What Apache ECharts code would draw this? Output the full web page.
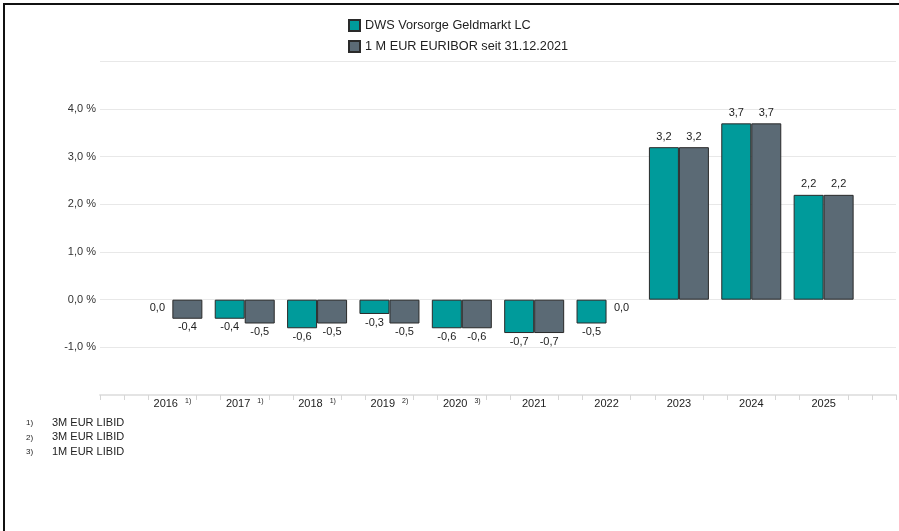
<!DOCTYPE html>
<html>
<head>
<meta charset="utf-8">
<script src="https://cdn.jsdelivr.net/npm/echarts@6/dist/echarts.min.js"></script>
<style>
html,body{margin:0;padding:0;background:#fff;}
#frame{position:absolute;left:3px;top:3px;width:896px;height:528px;border-top:2px solid #111;border-left:2px solid #111;box-sizing:border-box;}
#chart{position:absolute;left:0;top:0;width:899px;height:531px;}
</style>
</head>
<body>
<div id="frame"></div>
<div id="chart"></div>
<script>
const years = [2016, 2017, 2018, 2019, 2020, 2021, 2022, 2023, 2024, 2025];
const yearNotes = ['1)', '1)', '1)', '2)', '3)', '', '', '', '', ''];
const fundName = 'DWS Vorsorge Geldmarkt LC';
const benchName = '1 M EUR EURIBOR seit 31.12.2021';
const fundValues = [0.0, -0.4, -0.6, -0.3, -0.6, -0.7, -0.5, 3.2, 3.7, 2.2];
const benchValues = [-0.4, -0.5, -0.5, -0.5, -0.6, -0.7, 0.0, 3.2, 3.7, 2.2];
const yTicks = [-1, 0, 1, 2, 3, 4];
const footnoteMarks = ['1)', '2)', '3)'];
const footnoteTexts = ['3M EUR LIBID', '3M EUR LIBID', '1M EUR LIBID'];

const fmt = v => v.toFixed(1).replace('.', ',');

function buildData(vals) {
  return vals.map((v, i) => ({
    value: [years[i], v],
    itemStyle: v === 0 ? { borderWidth: 0, opacity: 0 } : undefined,
    label: { position: v > 0 ? 'top' : 'bottom', distance: v > 0 ? 5 : 3, opacity: 1 }
  }));
}

const tickVals = [2015];
years.concat([2015, 2026]).sort((a,b)=>a-b).filter((v,i,a)=>a.indexOf(v)===i).forEach(y => {
  if (y > 2015) tickVals.push(y - 1/3);
  if (y < 2026) tickVals.push(y + 1/3);
});
tickVals.push(2026);

const chart = echarts.init(document.getElementById('chart'), null, { renderer: 'canvas' });
const fontFamily = '"Liberation Sans", Arial, sans-serif';

const graphics = [];
footnoteMarks.forEach((m, i) => {
  graphics.push({ type: 'text', left: 26, top: 419 + i * 14.5,
    style: { text: m, font: '8px ' + fontFamily, fill: '#222' } });
  graphics.push({ type: 'text', left: 52, top: 417 + i * 14.5,
    style: { text: footnoteTexts[i], font: '11px ' + fontFamily, fill: '#222' } });
});

const labelStyle = { show: true, color: '#222', fontSize: 11, fontFamily: fontFamily, formatter: p => fmt(p.value[1]) };

chart.setOption({
  animation: false,
  textStyle: { fontFamily: fontFamily },
  legend: {
    orient: 'vertical', left: 343, top: 14,
    icon: 'rect',
    itemWidth: 11, itemHeight: 11, itemGap: 8,
    textStyle: { fontSize: 12.7, color: '#222', fontFamily: fontFamily },
    data: [fundName, benchName]
  },
  grid: { left: 100, right: 2, top: 61.4, bottom: 136, containLabel: false },
  xAxis: {
    type: 'value', min: 2015, max: 2026, interval: 1,
    splitLine: { show: false },
    axisLine: { show: true, onZero: false, lineStyle: { color: '#e4e4e4', width: 2 } },
    axisTick: { show: true, customValues: tickVals, length: 5, lineStyle: { color: '#d6d6d6' } },
    axisLabel: {
      margin: 3, color: '#222', fontSize: 11,
      formatter: v => {
        const i = years.indexOf(Math.round(v));
        if (i < 0) return '';
        return '{y|' + years[i] + '}' + (yearNotes[i] ? '{n|' + yearNotes[i] + '}' : '');
      },
      rich: {
        y: { fontSize: 11, color: '#222', fontFamily: fontFamily },
        n: { fontSize: 7, color: '#222', fontFamily: fontFamily, padding: [0, 0, 5, 7] }
      }
    }
  },
  yAxis: {
    type: 'value', min: -2, max: 5, interval: 1,
    axisLine: { show: false }, axisTick: { show: false },
    splitLine: { lineStyle: { color: '#e8e8e8', width: 1 } },
    axisLabel: {
      margin: 4, color: '#333', fontSize: 11,
      formatter: v => yTicks.indexOf(v) >= 0 ? fmt(v) + ' %' : ''
    }
  },
  series: [
    { name: fundName, type: 'bar', barWidth: 30, barGap: 0,
      itemStyle: { color: '#009b9b', borderColor: '#2a2a2a', borderWidth: 1 },
      label: labelStyle, data: buildData(fundValues) },
    { name: benchName, type: 'bar', barWidth: 30, barGap: 0,
      itemStyle: { color: '#5b6a75', borderColor: '#2a2a2a', borderWidth: 1 },
      label: labelStyle, data: buildData(benchValues) }
  ],
  graphic: graphics
});
</script>
</body>
</html>
